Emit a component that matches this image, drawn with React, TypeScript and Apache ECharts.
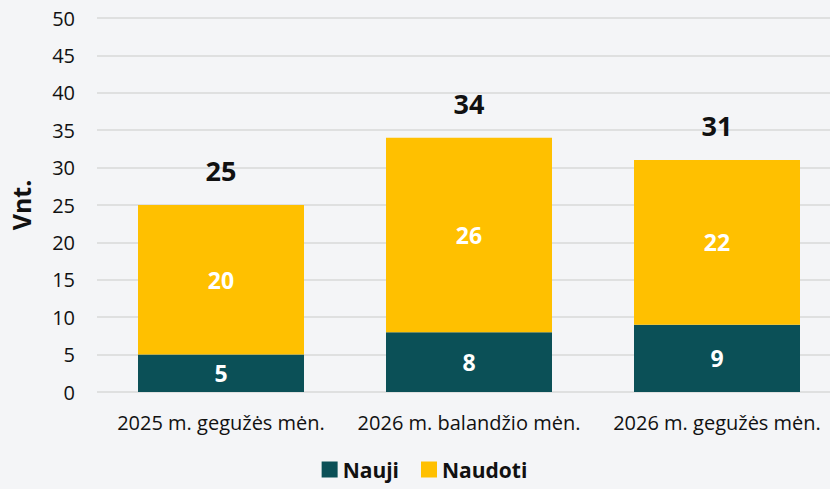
import React, { useEffect, useRef } from "react";
import * as echarts from "echarts";

const categories = ["2025 m. gegužės mėn.", "2026 m. balandžio mėn.", "2026 m. gegužės mėn."];
const nauji = [5, 8, 9];
const naudoti = [20, 26, 22];
const totals = categories.map((_, i) => nauji[i] + naudoti[i]);
const seriesNames = ["Nauji", "Naudoti"];
const yAxisTitle = "Vnt.";

const FONT = "'Open Sans', 'Noto Sans', sans-serif";

export default function App() {
  const ref = useRef<HTMLDivElement>(null);
  useEffect(() => {
    if (!ref.current) return;
    const chart = echarts.init(ref.current, undefined, { renderer: "svg" });
    chart.setOption({
      animation: false,
      backgroundColor: "#f4f5f7",
      textStyle: { fontFamily: FONT },
      grid: { left: 97, right: 8, top: 18, bottom: 97, containLabel: false },
      legend: {
        bottom: 4,
        left: "center",
        data: seriesNames,
        icon: "rect",
        itemWidth: 16,
        itemHeight: 16,
        itemGap: 22,
        textStyle: { fontSize: 21, fontWeight: "bold", color: "#111", fontFamily: FONT },
      },
      xAxis: {
        type: "category",
        data: categories,
        axisLine: { show: false },
        axisTick: { show: false },
        axisLabel: { fontSize: 20, color: "#111", margin: 20, interval: 0, hideOverlap: false, fontFamily: FONT },
      },
      yAxis: {
        type: "value",
        min: 0,
        max: 50,
        interval: 5,
        name: yAxisTitle,
        nameLocation: "middle",
        nameGap: 64,
        nameTextStyle: { fontSize: 25, fontWeight: "bold", color: "#111", fontFamily: FONT },
        axisLabel: { fontSize: 20, color: "#111", margin: 22, fontFamily: FONT },
        splitLine: { lineStyle: { color: "#d9d9d9", width: 1.5 } },
        axisLine: { show: false },
        axisTick: { show: false },
      },
      series: [
        {
          name: seriesNames[0],
          type: "bar",
          stack: "total",
          data: nauji,
          barWidth: 166,
          itemStyle: { color: "#0b5057" },
          label: { show: true, position: "inside", color: "#fff", fontSize: 23, fontWeight: "bold", fontFamily: FONT },
        },
        {
          name: seriesNames[1],
          type: "bar",
          stack: "total",
          data: naudoti,
          barWidth: 166,
          itemStyle: { color: "#ffc000" },
          label: { show: true, position: "inside", color: "#fff", fontSize: 23, fontWeight: "bold", fontFamily: FONT },
        },
        {
          name: "Iš viso",
          type: "bar",
          data: totals,
          barWidth: 166,
          barGap: "-100%",
          z: 5,
          silent: true,
          itemStyle: { color: "rgba(0,0,0,0)" },
          label: { show: true, position: "top", distance: 21, color: "#111", fontSize: 27, fontWeight: "bold", fontFamily: FONT },
          tooltip: { show: false },
        },
      ],
    });
    return () => chart.dispose();
  }, []);
  return (
    <div style={{ position: "fixed", left: 0, top: 0, width: 830, height: 489, overflow: "hidden", background: "#f4f5f7" }}>
      <div ref={ref} style={{ width: 849, height: 489 }} />
    </div>
  );
}
